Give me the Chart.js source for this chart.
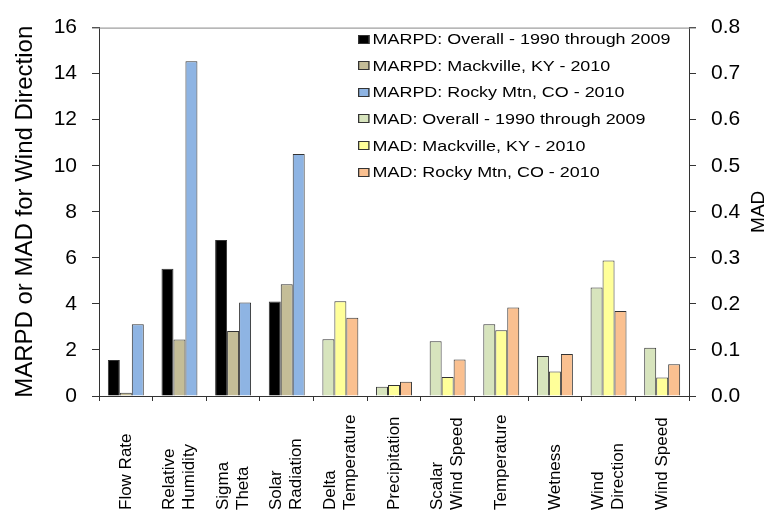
<!DOCTYPE html>
<html><head><meta charset="utf-8">
<script src="https://cdn.jsdelivr.net/npm/chart.js@4"></script>
<style>
html,body{margin:0;padding:0;background:#fff;}
#wrap{position:relative;width:770px;height:512px;}
#legend{position:absolute;left:358px;top:25.7px;transform:scaleX(1.28);transform-origin:0 0;font-family:Arial,"Liberation Sans",sans-serif;font-size:14px;color:#000;}
.row{height:26.67px;white-space:nowrap;display:flex;align-items:center;}
.sw{width:9.4px;height:9px;box-sizing:border-box;border:1px solid #333;margin-right:2px;flex:none;}
</style></head>
<body><div id="wrap"><canvas id="c" width="770" height="512"></canvas><div id="legend"></div></div>
<script>
// ---- data ----
const categories = ['Flow Rate', ['Relative','Humidity'], ['Sigma','Theta'], ['Solar','Radiation'],
  ['Delta','Temperature'], 'Precipitation', ['Scalar','Wind Speed'], 'Temperature', 'Wetness',
  ['Wind','Direction'], 'Wind Speed'];
const seriesNames = ['MARPD: Overall - 1990 through 2009', 'MARPD: Mackville, KY - 2010',
  'MARPD: Rocky Mtn, CO - 2010', 'MAD: Overall - 1990 through 2009', 'MAD: Mackville, KY - 2010',
  'MAD: Rocky Mtn, CO - 2010'];
// MARPD (left axis)
const marpdOverall   = [1.56, 5.53, 6.77, 4.10, null, null, null, null, null, null, null];
const marpdMackville = [0.14, 2.45, 2.82, 4.85, null, null, null, null, null, null, null];
const marpdRocky     = [3.12, 14.54, 4.06, 10.51, null, null, null, null, null, null, null];
// MAD (right axis)
const madOverall   = [null, null, null, null, 0.123, 0.020, 0.119, 0.156, 0.087, null, 0.105];
const madMackville = [null, null, null, null, 0.206, 0.024, 0.041, 0.143, 0.053, null, 0.040];
const madRocky     = [null, null, null, null, 0.170, 0.031, 0.079, 0.192, 0.091, null, 0.069];
// MAD for Wind Direction (degrees, left axis): overall, Mackville, Rocky Mtn
const windDirectionMAD = [4.71, 5.89, 3.69];
const leftTicks = {min: 0, max: 16, step: 2};
const rightTicks = {min: 0, max: 0.8, step: 0.1};

const colors = ['#000000', '#C4BD97', '#8EB4E3', '#D7E4BD', '#FFFF99', '#FAC090'];
const FONT = 'Arial, "Liberation Sans", sans-serif';
const windIdx = 9;
const windSeries = windDirectionMAD.map(v => categories.map((c, i) => i === windIdx ? v : null));

function ds(label, data, color, yId) {
  return {label, data, backgroundColor: color, borderColor: '#333', borderWidth: 1,
    yAxisID: yId, barPercentage: 1.0, categoryPercentage: 0.67, skipNull: true};
}
const datasets = [
  ds(seriesNames[0], marpdOverall, colors[0], 'y'),
  ds(seriesNames[1], marpdMackville, colors[1], 'y'),
  ds(seriesNames[2], marpdRocky, colors[2], 'y'),
  ds(seriesNames[3], madOverall, colors[3], 'y2'),
  ds(seriesNames[4], madMackville, colors[4], 'y2'),
  ds(seriesNames[5], madRocky, colors[5], 'y2'),
  ds(seriesNames[3], windSeries[0], colors[3], 'y'),
  ds(seriesNames[4], windSeries[1], colors[4], 'y'),
  ds(seriesNames[5], windSeries[2], colors[5], 'y'),
];

// legend (HTML)
const leg = document.getElementById('legend');
seriesNames.forEach((n, i) => {
  const r = document.createElement('div'); r.className = 'row';
  const s = document.createElement('span'); s.className = 'sw'; s.style.background = colors[i];
  const t = document.createElement('span'); t.textContent = n;
  r.appendChild(s); r.appendChild(t); leg.appendChild(r);
});

const extras = {
  id: 'extras',
  afterDraw(chart) {
    const ctx = chart.ctx, a = chart.chartArea;
    ctx.save();
    // top border of plot area
    ctx.strokeStyle = '#868686'; ctx.lineWidth = 1;
    ctx.beginPath(); ctx.moveTo(a.left - 7, a.top + 0.5); ctx.lineTo(a.right + 7, a.top + 0.5); ctx.stroke();
    // category labels, rotated
    const xs = chart.scales.x;
    ctx.fillStyle = '#000'; ctx.font = '17px ' + FONT;
    ctx.textAlign = 'left'; ctx.textBaseline = 'middle';
    categories.forEach((c, i) => {
      const lines = Array.isArray(c) ? c : [c];
      const cx = xs.getPixelForValue(i);
      lines.forEach((ln, j) => {
        const off = (j - (lines.length - 1) / 2) * 20;
        ctx.save(); ctx.translate(cx + off, 510); ctx.rotate(-Math.PI / 2);
        ctx.fillText(ln, 0, 0); ctx.restore();
      });
    });
    // right axis title
    ctx.font = '19px ' + FONT; ctx.textAlign = 'center';
    ctx.save(); ctx.translate(759, (a.top + a.bottom) / 2); ctx.rotate(-Math.PI / 2);
    ctx.fillText('MAD', 0, 0); ctx.restore();
    ctx.restore();
  }
};

const gridCommon = {drawOnChartArea: false, drawTicks: true, tickLength: 7, tickColor: '#333', lineWidth: 1};
new Chart(document.getElementById('c'), {
  type: 'bar',
  data: {labels: categories, datasets},
  options: {
    responsive: false, animation: false, devicePixelRatio: 1,
    layout: {padding: {top: 20, left: 0, right: 0, bottom: 0}},
    plugins: {legend: {display: false}, tooltip: {enabled: false}},
    scales: {
      x: {type: 'category', offset: true,
        grid: {offset: true, drawOnChartArea: false, drawTicks: true, tickLength: 5, tickColor: '#333'},
        border: {color: '#333', width: 1}, ticks: {display: false},
        afterFit(s) { s.height = 116; }},
      y: {position: 'left', min: leftTicks.min, max: leftTicks.max,
        ticks: {stepSize: leftTicks.step, color: '#000', font: {size: 21, family: FONT}, padding: 15},
        grid: gridCommon, border: {color: '#333', width: 1},
        title: {display: true, text: 'MARPD or MAD for Wind Direction', color: '#000',
          font: {size: 24, family: FONT}, padding: {top: 11, bottom: 0}},
        afterFit(s) { s.width = 99; }},
      y2: {position: 'right', min: rightTicks.min, max: rightTicks.max,
        ticks: {stepSize: rightTicks.step, color: '#000', font: {size: 21, family: FONT}, padding: 15,
          callback: v => Number(v).toFixed(1)},
        grid: gridCommon, border: {color: '#333', width: 1},
        afterFit(s) { s.width = 81; }}
    }
  },
  plugins: [extras]
});
</script>
</body></html>
